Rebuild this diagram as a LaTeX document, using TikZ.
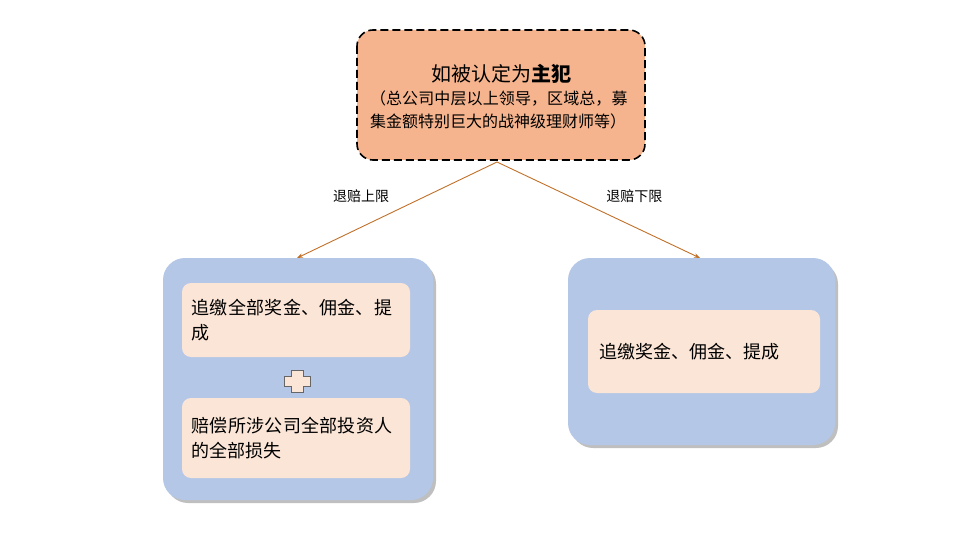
\documentclass[tikz,border=0pt]{standalone}
\usepackage{fontspec}
\setmainfont{Noto Sans CJK SC}
\XeTeXlinebreaklocale "zh"
\XeTeXlinebreakskip=0pt plus 1pt
\usetikzlibrary{arrows.meta}
\definecolor{orangefill}{RGB}{245,180,142}
\definecolor{bluefill}{RGB}{180,199,231}
\definecolor{innerfill}{RGB}{251,229,214}
\definecolor{arrowcolor}{RGB}{192,112,40}
\tikzset{
  outerbox/.style={fill=bluefill, rounded corners=22pt},
  innerbox/.style={fill=innerfill, rounded corners=9pt},
  link/.style={draw=arrowcolor, line width=0.9pt, -{Stealth[length=6pt]}},
  lbl/.style={font=\fontsize{18}{25}\selectfont},
}
\begin{document}
\begin{tikzpicture}[x=1pt,y=-1pt]
\useasboundingbox (0,0) rectangle (960,540);
% top box
\draw[fill=orangefill, dash pattern=on 8pt off 4pt, line width=1.6pt, rounded corners=16pt] (357,30) rectangle (645,160);
\node (topbox) at (501,97) [align=left, text width=262pt, font=\fontsize{16}{23}\selectfont]
  {\centering{\fontsize{20}{26}\selectfont 如被认定为\textbf{主犯}}\par\raggedright（总公司中层以上领导，区域总，募集金额特别巨大的战神级理财师等）};
\coordinate (src) at (497,162);
% left column
\fill[black!25] (166,262) [rounded corners=22pt] rectangle (436,503);
\fill[outerbox] (163,258) rectangle (433,500);
\coordinate (lefttop) at (297,258);
\fill[innerbox] (182,283) rectangle (410,357);
\node[lbl, anchor=west, text width=212pt, align=left] (bonusall) at (188,320) {追缴全部奖金、佣金、提成};
\draw[fill=innerfill, draw=black!60, line width=0.6pt]
  (291,370) -- (303,370) -- (303,376) -- (310,376) -- (310,386) -- (303,386) -- (303,392)
  -- (291,392) -- (291,386) -- (284,386) -- (284,376) -- (291,376) -- cycle;
\node (plus) at (297,381) {};
\fill[innerbox] (182,398) rectangle (410,478);
\node[lbl, anchor=west, text width=212pt, align=left] (losses) at (188,438) {赔偿所涉公司全部投资人的全部损失};
% right column
\fill[black!25] (571,262) [rounded corners=22pt] rectangle (838,448);
\fill[outerbox] (568,258) rectangle (835,445);
\coordinate (righttop) at (700,258);
\fill[innerbox] (588,310) rectangle (820,393);
\node[lbl, anchor=west] (bonus) at (596,352) {追缴奖金、佣金、提成};
% arrows
\draw[link] (src) -- (lefttop) node[pos=0.5, above left=4pt, font=\fontsize{14}{16}\selectfont] {退赔上限};
\draw[link] (src) -- (righttop) node[pos=0.5, above right=4pt, font=\fontsize{14}{16}\selectfont] {退赔下限};
\end{tikzpicture}
\end{document}
